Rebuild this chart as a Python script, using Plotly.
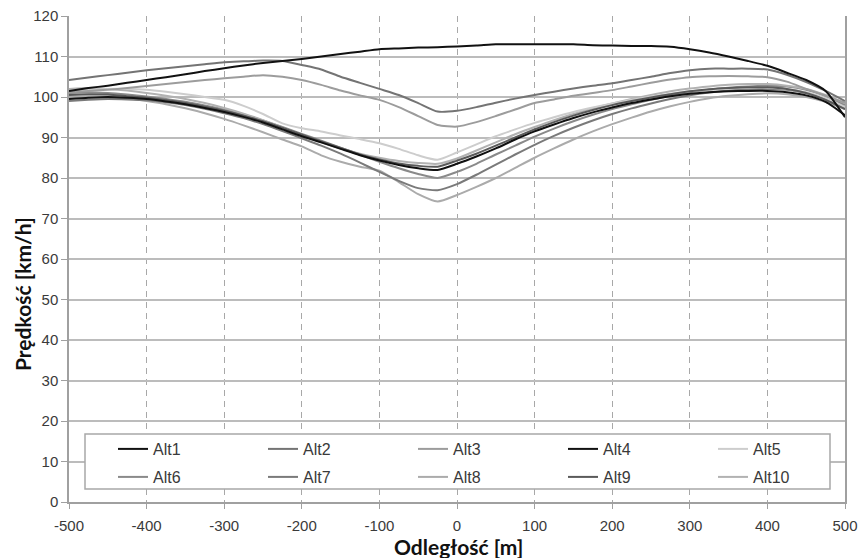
import plotly.graph_objects as go

# distance [m]
distance = [-500, -475, -450, -425, -400, -375, -350, -325, -300, -275, -250, -225, -200,
            -175, -150, -125, -100, -75, -50, -25, 0, 25, 50, 75, 100, 125, 150, 175, 200,
            225, 250, 275, 300, 325, 350, 375, 400, 425, 450, 475, 500]

alt1 = [101.5, 102.2, 102.8, 103.5, 104.2, 104.9, 105.6, 106.4, 107.1, 107.8, 108.4, 108.9, 109.4,
        110.0, 110.6, 111.2, 111.8, 112.0, 112.2, 112.3, 112.5, 112.7, 113.0, 113.0, 113.0, 113.0, 113.0,
        112.8, 112.7, 112.6, 112.6, 112.4, 111.8, 111.0, 110.0, 108.9, 107.7, 106.0, 104.2, 101.5, 95.0]
alt2 = [104.2, 104.8, 105.4, 106.0, 106.6, 107.1, 107.6, 108.1, 108.6, 108.8, 109.0, 108.9, 107.9,
        106.8, 105.0, 103.5, 102.0, 100.5, 98.5, 96.4, 96.6, 97.5, 98.6, 99.6, 100.5, 101.3, 102.1,
        102.8, 103.4, 104.2, 105.0, 105.9, 106.6, 107.0, 107.0, 107.0, 106.8, 105.5, 103.7, 101.5, 99.0]
alt3 = [101.2, 101.5, 101.8, 102.2, 102.7, 103.2, 103.7, 104.2, 104.6, 105.0, 105.4, 105.0, 104.2,
        103.0, 101.6, 100.4, 99.3, 97.5, 95.3, 93.1, 92.7, 93.8, 95.3, 96.9, 98.5, 99.4, 100.3,
        101.0, 101.7, 102.6, 103.5, 104.3, 104.9, 105.1, 105.2, 105.1, 104.9, 103.8, 102.0, 100.3, 98.5]
alt4 = [99.5, 99.8, 100.0, 99.8, 99.5, 98.9, 98.2, 97.3, 96.3, 95.1, 93.7, 92.0, 90.3,
        88.8, 87.2, 85.6, 84.3, 83.2, 82.4, 82.0, 83.5, 85.3, 87.3, 89.5, 91.5, 93.2, 94.8,
        96.2, 97.4, 98.5, 99.4, 100.2, 100.8, 101.2, 101.4, 101.5, 101.5, 101.2, 100.4, 98.8, 95.5]
alt5 = [101.5, 101.8, 102.0, 102.0, 101.8, 101.3, 100.7, 100.0, 99.3, 97.8, 95.8, 93.5, 92.3,
        91.5, 90.5, 89.6, 88.6, 87.2, 85.6, 84.5, 86.3, 88.3, 90.3, 92.0, 93.6, 95.0, 96.3,
        97.4, 98.4, 99.3, 100.1, 100.8, 101.4, 101.8, 102.1, 102.3, 102.3, 102.0, 101.2, 99.8, 97.5]
alt6 = [101.0, 101.2, 101.0, 100.6, 100.1, 99.5, 98.8, 97.9, 96.9, 95.7, 94.2, 92.6, 90.9,
        89.2, 87.5, 85.7, 84.0, 82.4, 81.0, 80.0, 81.5, 83.5, 85.8, 88.0, 90.2, 92.2, 94.0,
        95.6, 97.0, 98.2, 99.3, 100.3, 101.2, 101.8, 102.3, 102.6, 102.8, 102.6, 101.8, 100.3, 98.0]
alt7 = [99.0, 99.3, 99.5, 99.4, 99.2, 98.7, 98.0, 97.1, 96.0, 94.8, 93.3, 91.6, 89.8,
        88.0, 86.0, 83.8, 81.5, 79.3, 77.5, 77.0, 78.5, 80.8, 83.3, 85.8, 88.2, 90.4, 92.4,
        94.2, 95.8, 97.2, 98.4, 99.5, 100.4, 101.1, 101.6, 101.9, 102.0, 101.8, 101.0, 99.5, 97.5]
alt8 = [100.0, 100.2, 100.1, 99.7, 99.0, 98.2, 97.2, 96.0, 94.6, 93.0, 91.3, 89.5, 87.8,
        85.6, 84.0, 82.8, 81.8, 79.0, 76.0, 74.2, 75.8, 77.8, 80.0, 82.5, 85.0, 87.3, 89.5,
        91.5, 93.3, 94.9, 96.4, 97.7, 98.8, 99.7, 100.3, 100.7, 100.9, 100.7, 100.0, 98.8, 97.0]
alt9 = [100.5, 100.7, 100.6, 100.2, 99.8, 99.2, 98.5, 97.6, 96.6, 95.4, 94.0, 92.4, 90.7,
        89.0, 87.4, 85.8, 84.6, 83.6, 83.0, 82.8, 84.3, 86.0, 88.0, 90.0, 92.0, 93.8, 95.4,
        96.8, 98.0, 99.0, 99.9, 100.7, 101.4, 101.9, 102.2, 102.4, 102.4, 102.0, 101.0, 99.3, 97.0]
alt10 = [102.0, 102.2, 102.0, 101.6, 101.0, 100.3, 99.5, 98.5, 97.3, 95.9, 94.3, 92.5, 90.5,
         88.8, 87.3, 86.0, 85.0, 84.2, 83.7, 83.5, 84.8, 86.8, 88.8, 90.8, 92.6, 94.3, 95.8,
         97.2, 98.4, 99.5, 100.5, 101.4, 102.1, 102.6, 103.0, 103.2, 103.2, 102.8, 102.0, 100.5, 98.5]

names = ["Alt1", "Alt2", "Alt3", "Alt4", "Alt5", "Alt6", "Alt7", "Alt8", "Alt9", "Alt10"]
series = [alt1, alt2, alt3, alt4, alt5, alt6, alt7, alt8, alt9, alt10]
colors = ["#111111", "#747474", "#9c9c9c", "#111111", "#cdcdcd",
          "#8a8a8a", "#7a7a7a", "#ababab", "#5a5a5a", "#b2b2b2"]

x_ticks = [-500, -400, -300, -200, -100, 0, 100, 200, 300, 400, 500]
y_ticks = [0, 10, 20, 30, 40, 50, 60, 70, 80, 90, 100, 110, 120]

# plot area geometry (pixels)
L, R, T, B = 69, 14, 16, 56
W, H = 859, 558
PW, PH = W - L - R, H - T - B


def px_x(p):
    return (p - L) / PW


def px_y(p):
    return (H - B - p) / PH


fig = go.Figure()
order = [7, 6, 5, 9, 4, 8, 3, 2, 1, 0]
for i in order:
    fig.add_trace(go.Scatter(
        x=distance, y=series[i], name=names[i], mode="lines",
        line=dict(color=colors[i], width=2, shape="spline", smoothing=0.6),
        legend="legend" if i < 5 else "legend2",
        legendrank=i,
    ))

tick_font = dict(family="Liberation Sans, Arial, sans-serif", size=15, color="#3a3a3a")
title_font = dict(family="Lato, Open Sans, sans-serif", size=21, color="#111111")
legend_font = dict(family="Liberation Sans, Arial, sans-serif", size=16, color="#3a3a3a")

fig.update_layout(
    width=W, height=H,
    margin=dict(l=L, r=R, t=T, b=B, autoexpand=False),
    paper_bgcolor="white", plot_bgcolor="white",
    xaxis=dict(
        range=[-500, 500], tickvals=x_ticks, ticktext=[str(v) for v in x_ticks],
        showgrid=True, gridcolor="#a8a8a8", gridwidth=1.3, griddash="6px,5px",
        zeroline=False, showline=True, linecolor="#a0a0a0", linewidth=1.5,
        ticks="outside", ticklen=5, tickcolor="#a0a0a0",
        tickfont=tick_font, ticklabelstandoff=4, automargin=False,
    ),
    yaxis=dict(
        range=[0, 120], tickvals=y_ticks,
        showgrid=True, gridcolor="#bcbcbc", gridwidth=1.5,
        zeroline=False, showline=True, linecolor="#a0a0a0", linewidth=1.5, mirror=True,
        ticks="outside", ticklen=6, tickcolor="#a0a0a0",
        tickfont=tick_font, automargin=False,
    ),
    legend=dict(
        orientation="h", x=px_x(113), xanchor="left", y=px_y(449), yanchor="middle",
        entrywidth=105, bgcolor="rgba(0,0,0,0)", borderwidth=0,
        font=legend_font, traceorder="normal",
    ),
    legend2=dict(
        orientation="h", x=px_x(113), xanchor="left", y=px_y(477), yanchor="middle",
        entrywidth=105, bgcolor="rgba(0,0,0,0)", borderwidth=0,
        font=legend_font, traceorder="normal",
    ),
    shapes=[dict(
        type="rect", xref="paper", yref="paper",
        x0=px_x(85), x1=px_x(830), y0=px_y(489), y1=px_y(434),
        fillcolor="white", line=dict(color="#a8a8a8", width=1.5), layer="above",
    )],
    annotations=[
        dict(text="<b>Odległość [m]</b>", xref="paper", yref="paper",
             x=px_x(458), y=px_y(546), xanchor="center", yanchor="middle",
             showarrow=False, font=title_font),
        dict(text="<b>Prędkość [km/h]</b>", xref="paper", yref="paper",
             x=px_x(22), y=px_y(294), xanchor="center", yanchor="middle",
             textangle=-90, showarrow=False, font=title_font),
    ],
    showlegend=True,
)

fig.write_html("out.html", config={"displayModeBar": False},
               post_script="document.body.style.margin='0';")
